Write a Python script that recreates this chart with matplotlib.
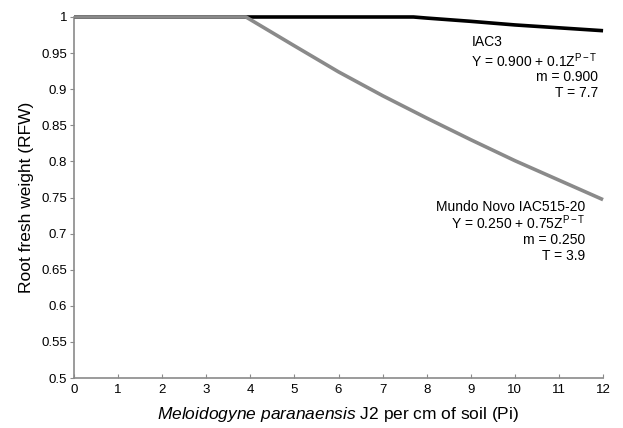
import matplotlib
matplotlib.use("Agg")
import matplotlib.pyplot as plt

plt.rcParams['font.family'] = ['Liberation Sans', 'DejaVu Sans']
plt.rcParams['mathtext.fontset'] = 'custom'
plt.rcParams['mathtext.rm'] = 'Liberation Sans'
plt.rcParams['mathtext.it'] = 'Liberation Sans:italic'

# Data
pi_iac3 = [0, 1, 2, 3, 4, 5, 6, 7, 7.7, 8, 9, 10, 11, 12]
rfw_iac3 = [1, 1, 1, 1, 1, 1, 1, 1, 1, 0.9985, 0.994, 0.989, 0.985, 0.981]

pi_mn = [0, 1, 2, 3, 3.9, 5, 6, 7, 8, 9, 10, 11, 12]
rfw_mn = [1, 1, 1, 1, 1, 0.960, 0.924, 0.891, 0.860, 0.830, 0.801, 0.774, 0.747]

x_ticks = list(range(0, 13))
y_ticks = [0.5, 0.55, 0.6, 0.65, 0.7, 0.75, 0.8, 0.85, 0.9, 0.95, 1]
y_tick_labels = ['0.5', '0.55', '0.6', '0.65', '0.7', '0.75', '0.8', '0.85', '0.9', '0.95', '1']

fig = plt.figure(figsize=(6.23, 4.28), dpi=100)
ax = fig.add_axes([0.1188, 0.1168, 0.8492, 0.8435])

ax.plot(pi_iac3, rfw_iac3, color='black', lw=2.6, clip_on=False, zorder=3,
        solid_capstyle='butt')
ax.plot(pi_mn, rfw_mn, color='#8a8a8a', lw=2.6, clip_on=False, zorder=4,
        solid_capstyle='butt')

ax.set_xlim(0, 12)
ax.set_ylim(0.5, 1)
ax.set_xticks(x_ticks)
ax.set_xticklabels([str(t) for t in x_ticks])
ax.set_yticks(y_ticks)
ax.set_yticklabels(y_tick_labels)

for s in ['top', 'right']:
    ax.spines[s].set_visible(False)
for s in ['left', 'bottom']:
    ax.spines[s].set_color('#8a8a8a')
    ax.spines[s].set_linewidth(1.2)

ax.tick_params(axis='x', direction='in', length=3, color='#8a8a8a',
               labelsize=9.5, pad=4)
ax.tick_params(axis='y', direction='out', length=3, color='#8a8a8a',
               labelsize=9.5, pad=2)

ax.set_ylabel('Root fresh weight (RFW)', fontsize=12.5, labelpad=5)
ax.set_xlabel(r'$\it{Meloidogyne\ paranaensis}$ J2 per cm of soil (Pi)', fontsize=12.5,
              labelpad=7)

fs = 10
# IAC3 annotation
fig.text(472 / 623, 1 - 42 / 428, 'IAC3', fontsize=fs, ha='left', va='center')
fig.text(598 / 623, 1 - 61 / 428, r'Y = 0.900 + 0.1Z$^{\mathregular{P-T}}$',
         fontsize=fs, ha='right', va='center')
fig.text(598 / 623, 1 - 77 / 428, 'm = 0.900', fontsize=fs, ha='right', va='center')
fig.text(598 / 623, 1 - 93 / 428, 'T = 7.7', fontsize=fs, ha='right', va='center')

# Mundo Novo annotation
fig.text(585 / 623, 1 - 207 / 428, 'Mundo Novo IAC515-20', fontsize=fs,
         ha='right', va='center')
fig.text(585 / 623, 1 - 223 / 428, r'Y = 0.250 + 0.75Z$^{\mathregular{P-T}}$',
         fontsize=fs, ha='right', va='center')
fig.text(585 / 623, 1 - 240 / 428, 'm = 0.250', fontsize=fs, ha='right', va='center')
fig.text(585 / 623, 1 - 256 / 428, 'T = 3.9', fontsize=fs, ha='right', va='center')

fig.savefig('out.png', dpi=100)
